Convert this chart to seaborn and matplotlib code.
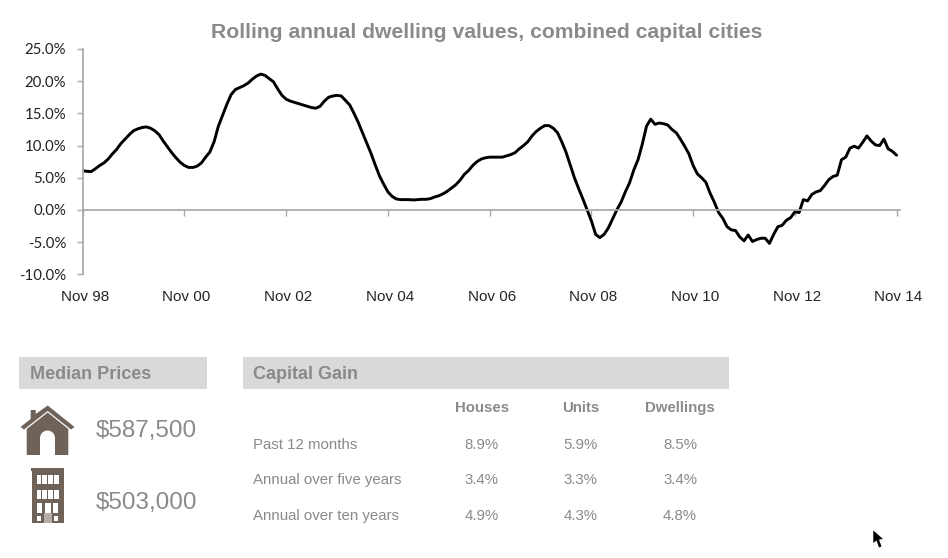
#!/usr/bin/env python3
import numpy as np
import pandas as pd
import seaborn as sns
import matplotlib.pyplot as plt
from matplotlib.patches import Rectangle, Polygon, Ellipse
from matplotlib.transforms import ScaledTranslation

# rolling annual change, monthly from Nov 98 to Nov 14
rolling_annual = [
    6.1, 6.0, 5.95, 6.4, 6.9, 7.3, 7.9, 8.7, 9.4, 10.3, 11.0, 11.7, 12.3, 12.6, 12.8, 12.9,
    12.7, 12.3, 11.7, 10.7, 9.8, 8.9, 8.1, 7.4, 6.9, 6.6, 6.6, 6.8, 7.3, 8.2, 9.0, 10.6,
    13.0, 14.7, 16.4, 17.9, 18.7, 19.0, 19.3, 19.7, 20.3, 20.8, 21.1, 20.9, 20.4, 19.9, 18.8, 17.8,
    17.2, 16.9, 16.7, 16.5, 16.3, 16.1, 15.9, 15.8, 16.1, 16.9, 17.5, 17.7, 17.8, 17.7, 17.0, 16.3,
    15.0, 13.6, 12.0, 10.4, 8.8, 7.0, 5.3, 4.0, 2.8, 2.1, 1.7, 1.6, 1.6, 1.6, 1.55, 1.6,
    1.65, 1.65, 1.75, 2.0, 2.2, 2.5, 2.9, 3.4, 3.9, 4.6, 5.5, 6.1, 6.9, 7.5, 7.9, 8.1,
    8.2, 8.2, 8.2, 8.2, 8.4, 8.6, 8.9, 9.5, 10.0, 10.6, 11.5, 12.2, 12.7, 13.1, 13.1, 12.7,
    12.0, 10.6, 9.0, 7.0, 5.0, 3.3, 1.7, 0.0, -1.7, -3.8, -4.3, -3.8, -2.8, -1.4, 0.0, 1.2,
    2.8, 4.2, 6.2, 7.8, 10.2, 13.0, 14.1, 13.3, 13.5, 13.4, 13.2, 12.5, 12.0, 11.0, 9.9, 8.7,
    6.9, 5.6, 5.0, 4.3, 2.6, 1.2, -0.4, -1.3, -2.6, -3.1, -3.2, -4.2, -4.8, -3.9, -4.9, -4.6,
    -4.4, -4.4, -5.2, -3.8, -2.6, -2.4, -1.6, -1.2, -0.3, -0.4, 1.6, 1.4, 2.4, 2.8, 3.0, 3.8,
    4.7, 5.2, 5.4, 7.8, 8.2, 9.6, 9.9, 9.6, 10.5, 11.5, 10.7, 10.1, 10.0, 11.0, 9.5, 9.1,
    8.5,
]
x_labels = ['Nov 98', 'Nov 00', 'Nov 02', 'Nov 04', 'Nov 06', 'Nov 08', 'Nov 10', 'Nov 12', 'Nov 14']
y_ticks = [-10, -5, 0, 5, 10, 15, 20, 25]

median_prices = ['$587,500', '$503,000']
gain_columns = ['Houses', 'Units', 'Dwellings']
gain_rows = ['Past 12 months', 'Annual over five years', 'Annual over ten years']
houses_gain = ['8.9%', '3.4%', '4.9%']
units_gain = ['5.9%', '3.3%', '4.3%']
dwellings_gain = ['8.5%', '3.4%', '4.8%']

GREY_TEXT = '#8a8a8a'
PANEL = '#d9d9d9'
AXIS_GREY = '#a8a8a8'
BROWN = '#6e6259'
W, H = 948, 558

sns.set_theme(style='white')
plt.rcParams['font.family'] = ['Liberation Sans', 'DejaVu Sans']

df = pd.DataFrame({'month': np.arange(len(rolling_annual)), 'change': rolling_annual})

fig = plt.figure(figsize=(W / 100, H / 100), dpi=100)
ax = fig.add_axes([82.7 / W, 1 - 274.3 / H, (900 - 82.7) / W, (274.3 - 49) / H])
sns.lineplot(data=df, x='month', y='change', color='black', linewidth=2.1, ax=ax)

ax.set_xlim(0, 192.8)
ax.set_ylim(-10, 25)
ax.set_xlabel('')
ax.set_ylabel('')
ax.set_xticks(np.arange(len(x_labels)) * 24)
ax.set_xticklabels(x_labels, family='Lato', fontsize=10.1, color='#222222')
ax.set_yticks(y_ticks)
ax.set_yticklabels([f'{v:.1f}%' for v in y_ticks], family='Lato', fontsize=10.8, color='#222222')
ax.spines['top'].set_visible(False)
ax.spines['right'].set_visible(False)
ax.spines['bottom'].set_position(('data', 0))
ax.spines['bottom'].set_color(AXIS_GREY)
ax.spines['left'].set_color(AXIS_GREY)
ax.tick_params(axis='x', direction='out', length=4, width=1, color=AXIS_GREY, pad=54, bottom=True)
ax.tick_params(axis='y', direction='out', length=4, width=1, color=AXIS_GREY, pad=8, left=True)
# labels sit about 2px right of their ticks
for lab in ax.get_xticklabels():
    lab.set_transform(lab.get_transform() + ScaledTranslation(2 / 100, 0, fig.dpi_scale_trans))

# everything below the chart is laid out in pixel coordinates
ov = fig.add_axes([0, 0, 1, 1], zorder=-1)
ov.set_xlim(0, W)
ov.set_ylim(H, 0)
ov.axis('off')

ov.text(486.5, 38.5, 'Rolling annual dwelling values, combined capital cities',
        ha='center', va='baseline', fontsize=15.25, fontweight='bold', color=GREY_TEXT)

ov.add_patch(Rectangle((19, 357), 188, 32, color=PANEL, lw=0))
ov.add_patch(Rectangle((242.7, 357), 486.3, 32, color=PANEL, lw=0))
ov.text(30, 379, 'Median Prices', ha='left', va='baseline', fontsize=13, fontweight='bold', color=GREY_TEXT)
ov.text(253, 379, 'Capital Gain', ha='left', va='baseline', fontsize=13, fontweight='bold', color=GREY_TEXT)

for price, y in zip(median_prices, [437.5, 509.5]):
    ov.text(96, y, price, ha='left', va='baseline', fontsize=17.5, color=GREY_TEXT)

col_x = [481.7, 580.7, 680]
row_y = [449, 484, 520]
for name, x in zip(gain_columns, col_x):
    ov.text(x, 412, name, ha='center', va='baseline', fontsize=10.8, fontweight='bold', color=GREY_TEXT)
for label, y in zip(gain_rows, row_y):
    ov.text(253, y, label, ha='left', va='baseline', fontsize=10.8, color=GREY_TEXT)
for col, x in zip([houses_gain, units_gain, dwellings_gain], col_x):
    for val, y in zip(col, row_y):
        ov.text(x, y, val, ha='center', va='baseline', fontsize=10.8, color=GREY_TEXT)

# house icon
ov.add_patch(Polygon([(30.7, 419), (30.7, 410), (35.7, 410), (35.7, 414), (47.7, 405.5), (74.5, 427),
                      (71, 429.5), (47.7, 411), (24, 429.5), (20.5, 427)], color=BROWN, lw=0))
ov.add_patch(Polygon([(47.7, 412.5), (68.3, 429), (68.3, 455), (26.7, 455), (26.7, 429)], color=BROWN, lw=0))
ov.add_patch(Rectangle((40, 438), 15, 17, color='white', lw=0))
ov.add_patch(Ellipse((47.5, 438), 15, 15, color='white', lw=0))

# apartment building icon
ov.add_patch(Rectangle((32.3, 470), 31.7, 53.3, color=BROWN, lw=0))
ov.add_patch(Rectangle((31, 468), 33.5, 2.5, color=BROWN, lw=0))
for top, bottom in [(475, 484), (489.5, 499.3)]:
    for left in [36.7, 42.4, 48.2, 54]:
        ov.add_patch(Rectangle((left, top), 4.8, bottom - top, color='white', lw=0))
for left, width in [(36.7, 5), (45, 5.7), (53.5, 5)]:
    ov.add_patch(Rectangle((left, 502.7), width, 10, color='white', lw=0))
ov.add_patch(Rectangle((44, 513), 8, 10.3, color='#b5aea8', lw=0))
ov.add_patch(Rectangle((36.7, 516), 4.5, 5, color='white', lw=0))
ov.add_patch(Rectangle((54, 516), 4.5, 5, color='white', lw=0))

# mouse pointer left in the screenshot
ov.add_patch(Polygon([(873.3, 530.5), (873.3, 543), (876.5, 540.5), (879, 547.5), (881.5, 546.5),
                      (879, 539.5), (883, 539)], color='black', lw=0))

fig.savefig('out.png', dpi=100)
